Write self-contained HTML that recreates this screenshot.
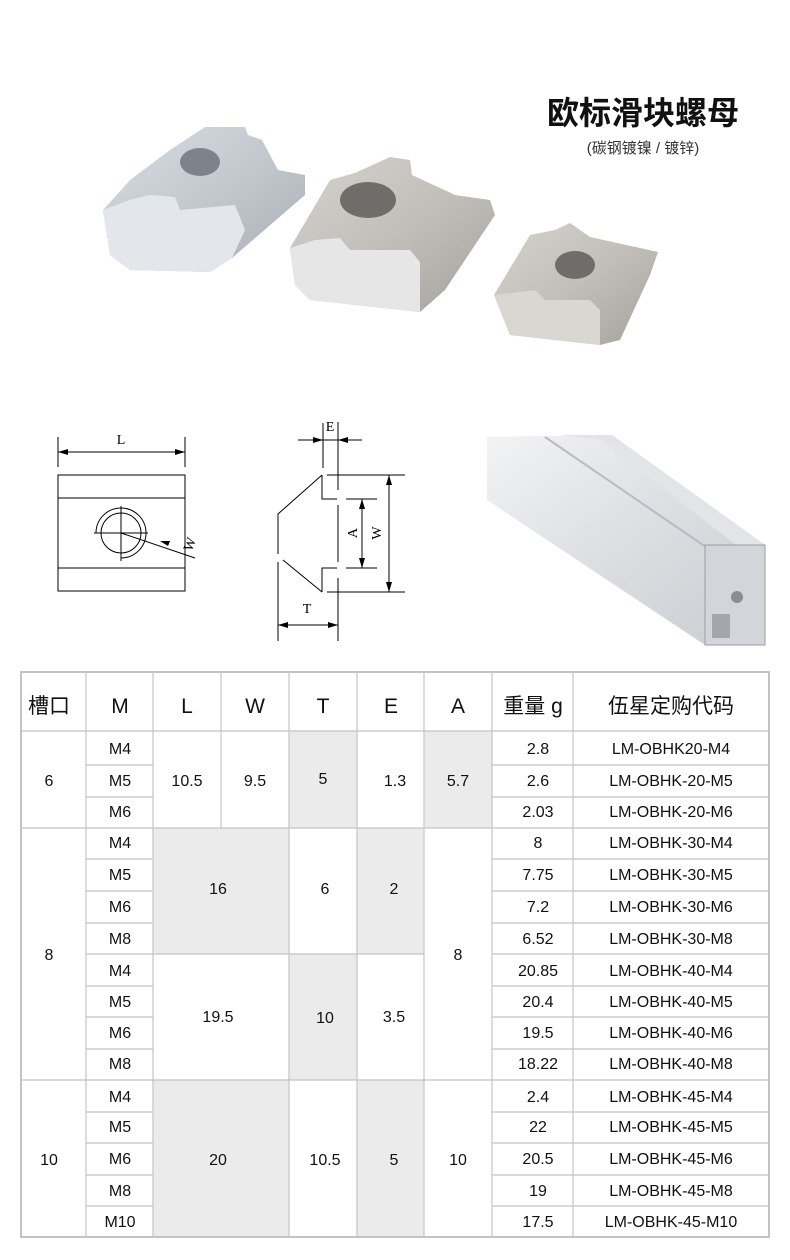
<!DOCTYPE html>
<html><head><meta charset="utf-8"><style>
html,body{margin:0;padding:0;background:#fff;}
body{width:790px;height:1260px;position:relative;overflow:hidden;font-family:"Liberation Sans","Noto Sans CJK SC",sans-serif;}
svg{position:absolute;left:0;top:0;}
</style></head><body>
<svg width="790" height="1260" viewBox="0 0 790 1260" xmlns="http://www.w3.org/2000/svg">
<defs>
<linearGradient id="n1" x1="0" y1="0" x2="1" y2="1"><stop offset="0" stop-color="#d9dde3"/><stop offset=".5" stop-color="#c3c8cf"/><stop offset="1" stop-color="#a9aeb5"/></linearGradient>
<linearGradient id="n2" x1="0" y1="0" x2="1" y2="1"><stop offset="0" stop-color="#d6d3cf"/><stop offset=".5" stop-color="#c2beb9"/><stop offset="1" stop-color="#a5a19c"/></linearGradient>
<linearGradient id="al" x1="0" y1="0" x2="1" y2="1"><stop offset="0" stop-color="#f2f3f5"/><stop offset=".5" stop-color="#dcdee2"/><stop offset="1" stop-color="#c9ccd0"/></linearGradient>
</defs>
<!-- title -->
<text x="643" y="124" font-size="32" font-weight="bold" text-anchor="middle" fill="#111" font-family="Liberation Sans,Noto Sans CJK SC,sans-serif">欧标滑块螺母</text>
<text x="643" y="153" font-size="15" text-anchor="middle" fill="#333" font-family="Liberation Sans,Noto Sans CJK SC,sans-serif">(碳钢镀镍 / 镀锌)</text>
<!-- nuts -->
<polygon points="103,210 130,180 170,150 205,127 245,127 248,135 262,140 278,170 305,175 305,195 232,258 210,272 130,270 110,255" fill="url(#n1)"/>
<polygon points="103,210 130,200 150,195 175,197 180,210 235,205 245,230 232,258 210,272 130,270 110,255" fill="#e3e7ec"/>
<ellipse cx="200" cy="162" rx="20" ry="14" fill="#7d838b"/>
<polygon points="290,248 330,180 355,173 390,157 410,160 412,175 455,195 490,200 495,215 445,290 420,312 310,300 295,285" fill="url(#n2)"/>
<polygon points="290,248 315,240 340,238 350,250 410,250 420,262 420,312 310,300 295,285" fill="#e6e6e6"/>
<ellipse cx="368" cy="200" rx="28" ry="18" fill="#6f6c69"/>
<polygon points="494,295 530,235 555,230 570,223 590,237 658,252 650,275 620,340 600,345 510,335" fill="url(#n2)"/>
<polygon points="494,295 520,292 535,290 545,300 590,300 600,310 600,345 510,335" fill="#dad7d3"/>
<ellipse cx="575" cy="265" rx="20" ry="14" fill="#6f6c69"/>
<!-- aluminum profile -->
<polygon points="487,437 612,435 765,545 765,645 705,645 487,500" fill="url(#al)"/>
<polygon points="560,435 612,435 765,545 740,548 600,440" fill="#e2e4e7"/>
<line x1="545" y1="437" x2="725" y2="560" stroke="#b8bbc0" stroke-width="2"/>
<rect x="705" y="545" width="60" height="100" fill="#d2d5d9" stroke="#9a9ea4"/>
<circle cx="737" cy="597" r="6" fill="#8a8e94"/>
<rect x="712" y="614" width="18" height="24" fill="#a3a7ac"/>
<!-- drawing left -->
<g stroke="#000" stroke-width="1" fill="none">
<line x1="58" y1="437" x2="58" y2="467"/><line x1="185" y1="437" x2="185" y2="467"/>
<line x1="58" y1="452" x2="185" y2="452"/>
<rect x="58" y="475" width="127" height="116"/>
<line x1="58" y1="498" x2="185" y2="498"/><line x1="58" y1="568" x2="185" y2="568"/>
<circle cx="121" cy="533" r="20"/>
<path d="M96,533 A25,25 0 1 1 121,558"/>
<line x1="94" y1="533" x2="148" y2="533"/><line x1="121" y1="506" x2="121" y2="561"/>
<line x1="121" y1="533" x2="195" y2="558"/>
<!-- middle -->
<polyline points="322,475 278,514 278,554"/>
<polyline points="278,562 278,641"/>
<polyline points="283,560 322,592"/>
<polyline points="322,475 322,499 337,499"/>
<polyline points="322,592 322,568 337,568"/>
<line x1="338" y1="422" x2="338" y2="490"/><line x1="338" y1="505" x2="338" y2="562"/><line x1="338" y1="578" x2="338" y2="641"/>
<line x1="323" y1="423" x2="323" y2="468"/>
<line x1="298" y1="440" x2="362" y2="440"/>
<line x1="327" y1="475" x2="405" y2="475"/><line x1="327" y1="592" x2="405" y2="592"/>
<line x1="346" y1="499" x2="377" y2="499"/><line x1="346" y1="568" x2="377" y2="568"/>
<line x1="362" y1="499" x2="362" y2="568"/>
<line x1="389" y1="475" x2="389" y2="592"/>
<line x1="278" y1="625" x2="338" y2="625"/>
</g>
<g fill="#000">
<polygon points="58,452 68,449 68,455"/><polygon points="185,452 175,449 175,455"/>
<polygon points="160,541 170,541 168,546"/>
<polygon points="323,440 313,437 313,443"/><polygon points="338,440 348,437 348,443"/>
<polygon points="362,499 359,509 365,509"/><polygon points="362,568 359,558 365,558"/>
<polygon points="389,475 386,485 392,485"/><polygon points="389,592 386,582 392,582"/>
<polygon points="278,625 288,622 288,628"/><polygon points="338,625 328,622 328,628"/>
</g>
<g font-family="Liberation Serif,serif" font-size="14" fill="#000">
<text x="121" y="444" text-anchor="middle">L</text>
<text x="184" y="549" transform="rotate(-70 190 545)">W</text>
<text x="330" y="431" text-anchor="middle">E</text>
<text x="307" y="613" text-anchor="middle">T</text>
<text x="352" y="538" text-anchor="middle" transform="rotate(-90 352 533)">A</text>
<text x="376" y="538" text-anchor="middle" transform="rotate(-90 376 533)">W</text>
</g>
<!-- table shading -->
<g fill="#ebebeb">
<rect x="289" y="731" width="68" height="97"/>
<rect x="424" y="731" width="68" height="97"/>
<rect x="153" y="828" width="136" height="126"/>
<rect x="357" y="828" width="67" height="126"/>
<rect x="289" y="954" width="68" height="126"/>
<rect x="153" y="1080" width="136" height="157"/>
<rect x="357" y="1080" width="67" height="157"/>
</g>
<g stroke="#c4c4c4" stroke-width="1.2" fill="none">
<rect x="21" y="672" width="748" height="565" stroke-width="2"/>
<line x1="21" y1="731" x2="769" y2="731"/>
<line x1="86" y1="672" x2="86" y2="1237"/>
<line x1="153" y1="672" x2="153" y2="1237"/>
<line x1="221" y1="672" x2="221" y2="828"/>
<line x1="289" y1="672" x2="289" y2="1237"/>
<line x1="357" y1="672" x2="357" y2="1237"/>
<line x1="424" y1="672" x2="424" y2="1237"/>
<line x1="492" y1="672" x2="492" y2="1237"/>
<line x1="573" y1="672" x2="573" y2="1237"/>
<line x1="21" y1="828" x2="769" y2="828"/>
<line x1="21" y1="1080" x2="769" y2="1080"/>
<line x1="86" y1="954" x2="424" y2="954"/>
<g>
<line x1="86" y1="765" x2="153" y2="765"/><line x1="492" y1="765" x2="769" y2="765"/>
<line x1="86" y1="797" x2="153" y2="797"/><line x1="492" y1="797" x2="769" y2="797"/>
<line x1="86" y1="859" x2="153" y2="859"/><line x1="492" y1="859" x2="769" y2="859"/>
<line x1="86" y1="891" x2="153" y2="891"/><line x1="492" y1="891" x2="769" y2="891"/>
<line x1="86" y1="923" x2="153" y2="923"/><line x1="492" y1="923" x2="769" y2="923"/>
<line x1="492" y1="954" x2="769" y2="954"/>
<line x1="86" y1="986" x2="153" y2="986"/><line x1="492" y1="986" x2="769" y2="986"/>
<line x1="86" y1="1017" x2="153" y2="1017"/><line x1="492" y1="1017" x2="769" y2="1017"/>
<line x1="86" y1="1049" x2="153" y2="1049"/><line x1="492" y1="1049" x2="769" y2="1049"/>
<line x1="86" y1="1112" x2="153" y2="1112"/><line x1="492" y1="1112" x2="769" y2="1112"/>
<line x1="86" y1="1143" x2="153" y2="1143"/><line x1="492" y1="1143" x2="769" y2="1143"/>
<line x1="86" y1="1175" x2="153" y2="1175"/><line x1="492" y1="1175" x2="769" y2="1175"/>
<line x1="86" y1="1206" x2="153" y2="1206"/><line x1="492" y1="1206" x2="769" y2="1206"/>
</g>
</g>
<!-- header -->
<g font-family="Liberation Sans,Noto Sans CJK SC,sans-serif" font-size="21" fill="#111" text-anchor="middle">
<text x="49" y="713">槽口</text><text x="120" y="713">M</text><text x="187" y="713">L</text><text x="255" y="713">W</text>
<text x="323" y="713">T</text><text x="391" y="713">E</text><text x="458" y="713">A</text><text x="533" y="713">重量 g</text><text x="671" y="713">伍星定购代码</text>
</g>
<g font-family="Liberation Sans,sans-serif" font-size="16" fill="#111" text-anchor="middle">
<text x="49" y="786">6</text><text x="49" y="960">8</text><text x="49" y="1165">10</text>
<text x="120" y="754">M4</text><text x="120" y="786">M5</text><text x="120" y="817">M6</text>
<text x="120" y="848">M4</text><text x="120" y="880">M5</text><text x="120" y="912">M6</text><text x="120" y="944">M8</text>
<text x="120" y="976">M4</text><text x="120" y="1007">M5</text><text x="120" y="1038">M6</text><text x="120" y="1069">M8</text>
<text x="120" y="1102">M4</text><text x="120" y="1132">M5</text><text x="120" y="1164">M6</text><text x="120" y="1196">M8</text><text x="120" y="1227">M10</text>
<text x="187" y="786">10.5</text><text x="255" y="786">9.5</text><text x="323" y="784">5</text><text x="395" y="786">1.3</text><text x="458" y="786">5.7</text>
<text x="218" y="894">16</text><text x="325" y="894">6</text><text x="394" y="894">2</text><text x="458" y="960">8</text>
<text x="218" y="1022">19.5</text><text x="325" y="1023">10</text><text x="394" y="1022">3.5</text>
<text x="218" y="1165">20</text><text x="325" y="1165">10.5</text><text x="394" y="1165">5</text><text x="458" y="1165">10</text>
<text x="538" y="754">2.8</text><text x="538" y="786">2.6</text><text x="538" y="817">2.03</text>
<text x="538" y="848">8</text><text x="538" y="880">7.75</text><text x="538" y="912">7.2</text><text x="538" y="944">6.52</text>
<text x="538" y="976">20.85</text><text x="538" y="1007">20.4</text><text x="538" y="1038">19.5</text><text x="538" y="1069">18.22</text>
<text x="538" y="1102">2.4</text><text x="538" y="1132">22</text><text x="538" y="1164">20.5</text><text x="538" y="1196">19</text><text x="538" y="1227">17.5</text>
<text x="671" y="754">LM-OBHK20-M4</text><text x="671" y="786">LM-OBHK-20-M5</text><text x="671" y="817">LM-OBHK-20-M6</text>
<text x="671" y="848">LM-OBHK-30-M4</text><text x="671" y="880">LM-OBHK-30-M5</text><text x="671" y="912">LM-OBHK-30-M6</text><text x="671" y="944">LM-OBHK-30-M8</text>
<text x="671" y="976">LM-OBHK-40-M4</text><text x="671" y="1007">LM-OBHK-40-M5</text><text x="671" y="1038">LM-OBHK-40-M6</text><text x="671" y="1069">LM-OBHK-40-M8</text>
<text x="671" y="1102">LM-OBHK-45-M4</text><text x="671" y="1132">LM-OBHK-45-M5</text><text x="671" y="1164">LM-OBHK-45-M6</text><text x="671" y="1196">LM-OBHK-45-M8</text><text x="671" y="1227">LM-OBHK-45-M10</text>
</g>
</svg>
</body></html>
